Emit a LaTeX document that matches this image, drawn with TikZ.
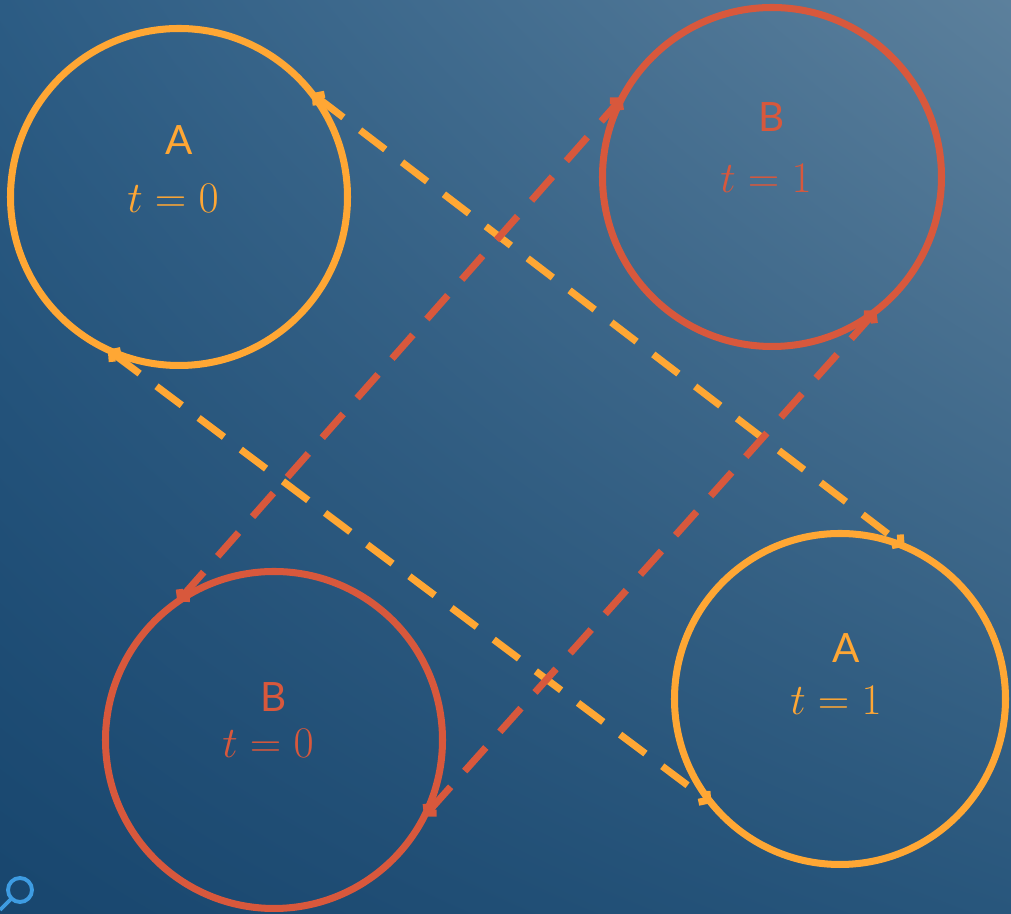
\documentclass[tikz,border=0pt]{standalone}
\usepackage{fontspec}
\setsansfont{Lato}
\usetikzlibrary{arrows.meta}
\usetikzlibrary{math, shadings}
\definecolor{myorange}{RGB}{255,167,52}
\definecolor{myred}{RGB}{216,88,60}
\definecolor{bgul}{RGB}{44,92,132}
\definecolor{bgur}{RGB}{92,128,156}
\definecolor{bgll}{RGB}{24,70,110}
\definecolor{bglr}{RGB}{40,86,124}
\definecolor{lensblue}{RGB}{62,156,226}

\tikzset{
  ring/.style={circle, draw, line width=4pt, inner sep=0pt, outer sep=0pt},
  link/.style={line width=4pt, dash pattern=on 18pt off 12pt,
    {Straight Barb[length=3.5pt,width=8pt]}-{Straight Barb[length=3.5pt,width=8pt]}},
  lbl/.style={font=\sffamily\fontsize{23}{27}\selectfont},
  eq/.style={font=\fontsize{27}{32}\selectfont},
}

\begin{document}
\begin{tikzpicture}
\tikzmath{
\W=20.22;
\H=18.28;
}

\shade[upper left=bgul, upper right=bgur, lower left=bgll, lower right=bglr]
  (0,0) rectangle (\W,\H);
\useasboundingbox (0,0) rectangle (\W,\H);

% the four states
\node[ring, myorange, minimum size=6.74cm] (A0) at (3.58,14.34) {};
\node[ring, myred, minimum size=6.78cm] (B1) at (15.44,14.74) {};
\node[ring, myred, minimum size=6.74cm] (B0) at (5.48,3.48) {};
\node[ring, myorange, minimum size=6.62cm] (A1) at (16.80,4.30) {};

\node[lbl, myorange] (A0name) at (3.58,15.48) {A};
\node[eq, myorange] (A0time) at (3.46,14.32) {$t=0$};
\node[lbl, myred] (B1name) at (15.44,15.94) {B};
\node[eq, myred] (B1time) at (15.32,14.72) {$t=1$};
\node[lbl, myred] (B0name) at (5.48,4.34) {B};
\node[eq, myred] (B0time) at (5.36,3.42) {$t=0$};
\node[lbl, myorange] (A1name) at (16.92,5.32) {A};
\node[eq, myorange] (A1time) at (16.72,4.28) {$t=1$};

% links
\draw[link, myorange] (A0.38.6) -- (A1.67.8);
\draw[link, myorange] (A0.245) -- (A1.219);
\draw[link, myred] (B0.125) -- (B1.152);
\draw[link, myred] (B0.-27) -- (B1.-52.7);

% lens icon
\draw[lensblue, line width=2.2pt] (0.40,0.48) circle (0.24);
\draw[lensblue, line width=2.2pt] (0.23,0.31) -- (0,0.08);

\end{tikzpicture}
\end{document}
